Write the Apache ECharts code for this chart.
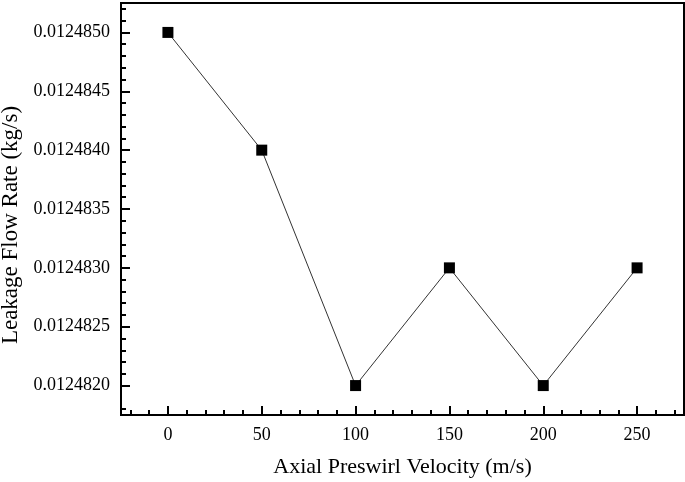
<!DOCTYPE html>
<html>
<head>
<meta charset="utf-8">
<style>
  html, body { margin: 0; padding: 0; background: #fff; }
  #chart { width: 685px; height: 482px; }
</style>
<script src="https://cdn.jsdelivr.net/npm/echarts@6/dist/echarts.min.js"></script>
</head>
<body>
<div id="chart"></div>
<script>
const velocity = [0, 50, 100, 150, 200, 250]
const leakage = [0.012485, 0.012484, 0.012482, 0.012483, 0.012482, 0.012483]

const xMajorTicks = [0, 50, 100, 150, 200, 250]
const xMinorTicks = [-20, -10, 10, 20, 30, 40, 60, 70, 80, 90, 110, 120, 130, 140,
  160, 170, 180, 190, 210, 220, 230, 240, 260, 270]
const yMajorTicks = [0.012482, 0.0124825, 0.012483, 0.0124835, 0.012484, 0.0124845, 0.012485]
const yMinorTicks = [0.0124818, 0.0124821, 0.0124822, 0.0124823, 0.0124824,
  0.0124826, 0.0124827, 0.0124828, 0.0124829, 0.0124831, 0.0124832, 0.0124833,
  0.0124834, 0.0124836, 0.0124837, 0.0124838, 0.0124839, 0.0124841, 0.0124842,
  0.0124843, 0.0124844, 0.0124846, 0.0124847, 0.0124848, 0.0124849, 0.0124851,
  0.0124852]

const font = 'Liberation Serif'
const xMin = -25
const xMax = 275
const yMin = 0.01248175
const yMax = 0.01248525

const chart = echarts.init(document.getElementById('chart'))

const baseX = {
  type: 'value',
  min: xMin,
  max: xMax,
  position: 'bottom',
  splitLine: { show: false }
}
const baseY = {
  type: 'value',
  min: yMin,
  max: yMax,
  position: 'left',
  splitLine: { show: false }
}

chart.setOption({
  backgroundColor: '#fff',
  animation: false,
  grid: {
    left: 121,
    right: 1,
    top: 3,
    bottom: 67,
    outerBoundsMode: 'none',
    containLabel: false,
    show: true,
    borderColor: '#000',
    borderWidth: 2
  },
  xAxis: [
    {
      ...baseX,
      name: 'Axial Preswirl Velocity (m/s)',
      nameLocation: 'middle',
      nameGap: 41,
      nameTextStyle: { fontFamily: font, fontSize: 22, color: '#000' },
      axisLine: { onZero: false, lineStyle: { color: '#000', width: 2 } },
      axisTick: {
        inside: true,
        length: 9,
        customValues: xMajorTicks,
        lineStyle: { color: '#000', width: 2 }
      },
      axisLabel: {
        customValues: xMajorTicks,
        margin: 11,
        fontFamily: font,
        fontSize: 18,
        color: '#000'
      }
    },
    {
      ...baseX,
      axisLine: { show: false, onZero: false },
      axisLabel: { show: false },
      axisTick: {
        inside: true,
        length: 5,
        customValues: xMinorTicks,
        lineStyle: { color: '#000', width: 2 }
      }
    }
  ],
  yAxis: [
    {
      ...baseY,
      name: 'Leakage Flow Rate (kg/s)',
      nameLocation: 'middle',
      nameGap: 99,
      nameTextStyle: {
        fontFamily: font,
        fontSize: 23,
        color: '#000',
        padding: [0, 32, 0, 0]
      },
      axisLine: { onZero: false, lineStyle: { color: '#000', width: 2 } },
      axisTick: {
        inside: true,
        length: 9,
        customValues: yMajorTicks,
        lineStyle: { color: '#000', width: 2 }
      },
      axisLabel: {
        customValues: yMajorTicks,
        margin: 11,
        fontFamily: font,
        fontSize: 18,
        color: '#000',
        formatter: v => v.toFixed(7)
      }
    },
    {
      ...baseY,
      axisLine: { show: false, onZero: false },
      axisLabel: { show: false },
      axisTick: {
        inside: true,
        length: 5,
        customValues: yMinorTicks,
        lineStyle: { color: '#000', width: 2 }
      }
    }
  ],
  series: [
    {
      type: 'line',
      data: velocity.map((v, i) => [v, leakage[i]]),
      symbol: 'rect',
      symbolSize: 11,
      itemStyle: { color: '#000' },
      lineStyle: { color: '#333', width: 1 }
    }
  ]
})
</script>
</body>
</html>
